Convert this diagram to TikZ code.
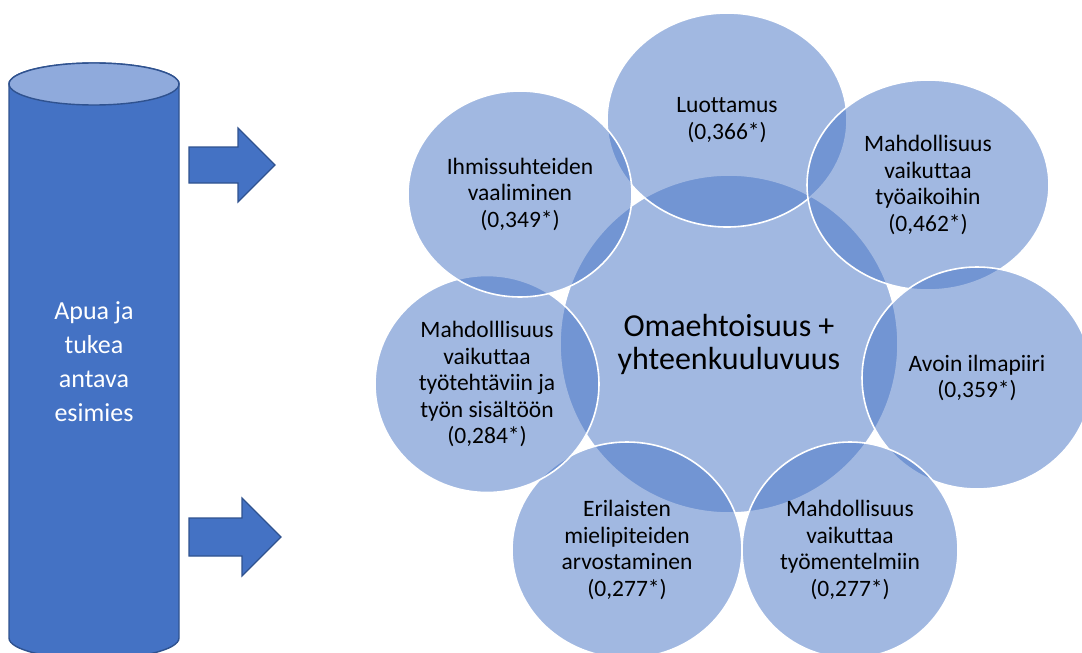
\documentclass[tikz,border=0pt]{standalone}
\usepackage{fontspec}
\setmainfont{Carlito}[Ligatures=NoCommon]
\definecolor{venn}{RGB}{68,114,196}
\definecolor{edge}{RGB}{47,82,143}
\definecolor{lid}{RGB}{143,170,220}
\usetikzlibrary{shapes.geometric}
\tikzset{
  hub/.style={circle,fill=venn,fill opacity=0.5,text opacity=1,draw=white,line width=1.6pt,
              minimum size=338pt,inner sep=0pt,align=center,font=\fontsize{32}{33}\selectfont},
  sat/.style={ellipse,fill=venn,fill opacity=0.5,text opacity=1,draw=white,line width=1.6pt,
              inner sep=0pt,align=center,font=\fontsize{23.5}{26.5}\selectfont},
  tube/.style={fill=venn,draw=edge,line width=1.4pt},
  lidface/.style={fill=lid,draw=edge,line width=1.4pt},
  blockarr/.style={fill=venn,draw=edge,line width=1.2pt,line join=miter},
  lbl/.style={text=white,align=center,font=\fontsize{26}{34}\selectfont},
}

\begin{document}
\begin{tikzpicture}[x=1pt,y=-1pt]
    \useasboundingbox (0,0) rectangle (1082,653);
    \clip (0,0) rectangle (1082,653);
    % cylinder on the left
    \draw[tube] (9,84) -- (9,638) arc[start angle=180,end angle=360,x radius=85pt,y radius=21pt]
      -- (179,84) arc[start angle=0,end angle=180,x radius=85pt,y radius=21pt] -- cycle;
    \draw[lidface] (94,84) ellipse[x radius=85pt,y radius=21pt];
    \node[lbl] (boss) at (94,362) {Apua ja\\tukea\\antava\\esimies};
    % block arrows
    \draw[blockarr] (189,147) -- (238,147) -- (238,128) -- (275,165) -- (238,202)
      -- (238,183) -- (189,183) -- cycle;
    \draw[blockarr] (189,518) -- (242,518) -- (242,498) -- (281,537) -- (242,576)
      -- (242,556) -- (189,556) -- cycle;
    % venn
    \node[hub] (core) at (729,344) {Omaehtoisuus +\\yhteenkuuluvuus};
    \foreach \nm/\x/\y/\w/\h/\txt in {
      trust/727/120/240/214/{Luottamus\\(0,366*)},
      hours/928/185/242/210/{Mahdollisuus\\vaikuttaa\\työaikoihin\\(0,462*)},
      climate/977/378/230/222/{Avoin ilmapiiri\\(0,359*)},
      methods/850/550/216/216/{Mahdollisuus\\vaikuttaa\\työmentelmiin\\(0,277*)},
      opinions/627/550/230/216/{Erilaisten\\mielipiteiden\\arvostaminen\\(0,277*)},
      tasks/487/384/224/217/{Mahdolllisuus\\vaikuttaa\\työtehtäviin ja\\työn sisältöön\\(0,284*)},
      relations/520/194/224/206/{Ihmissuhteiden\\vaaliminen\\(0,349*)}}
      \node[sat,minimum width=\w pt,minimum height=\h pt] (\nm) at (\x,\y) {\txt};
\end{tikzpicture}
\end{document}
